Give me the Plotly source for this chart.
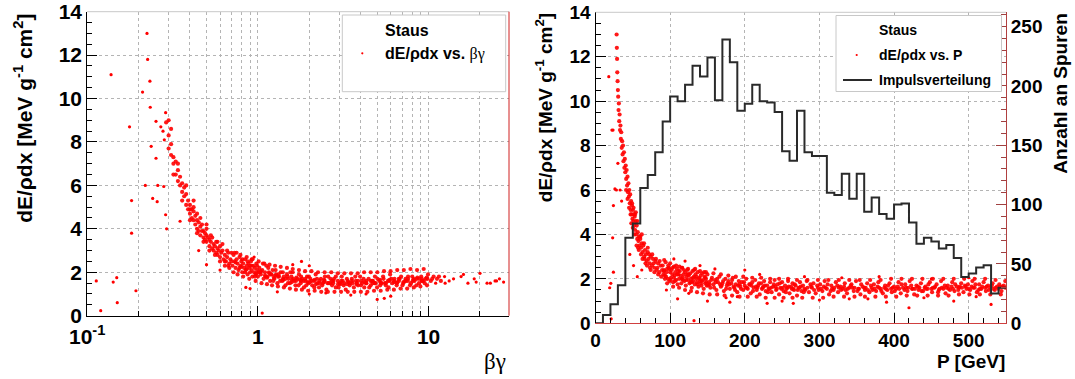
import plotly.graph_objects as go

# ---------------- data: left panel (beta*gamma, dE/rho dx) ----------------
left_curve = [
    (0.29, 8.9), (0.30, 7.7), (0.30, 8.3), (0.30, 9.0), (0.31, 8.6), (0.31, 7.4), (0.31, 7.9),
    (0.32, 7.0), (0.32, 7.3), (0.33, 6.5), (0.33, 7.1), (0.34, 6.7), (0.34, 6.2), (0.35, 6.0),
    (0.35, 6.4), (0.36, 5.7), (0.36, 6.1), (0.37, 5.5), (0.37, 5.9), (0.38, 5.1), (0.38, 5.6),
    (0.39, 4.9), (0.39, 5.3), (0.40, 4.7), (0.40, 5.1), (0.41, 4.9), (0.41, 4.5), (0.42, 4.8),
    (0.42, 4.4), (0.43, 4.6), (0.43, 4.2), (0.44, 4.4), (0.44, 4.0), (0.45, 4.3), (0.45, 3.9),
    (0.46, 4.1), (0.46, 3.7), (0.47, 3.9), (0.47, 4.2), (0.48, 3.6), (0.48, 3.9), (0.49, 3.5),
    (0.49, 3.8), (0.50, 3.4), (0.50, 3.7), (0.51, 3.6), (0.52, 3.2), (0.52, 3.5), (0.53, 3.4),
    (0.54, 3.1), (0.55, 3.3), (0.55, 3.0), (0.56, 3.2), (0.57, 2.9), (0.58, 3.1), (0.58, 2.8),
    (0.59, 3.0), (0.60, 2.7), (0.61, 2.9), (0.62, 3.0), (0.63, 2.6), (0.64, 2.8), (0.65, 2.5),
    (0.66, 2.7), (0.67, 2.9), (0.68, 2.4), (0.69, 2.6), (0.70, 2.5), (0.40, 4.9), (0.42, 5.0),
    (0.44, 4.7), (0.50, 4.0), (0.53, 3.7), (0.57, 3.4), (0.60, 3.2), (0.64, 2.5), (0.67, 2.3),
    (0.32, 6.5), (0.34, 7.0), (0.36, 5.3), (0.38, 6.0), (0.40, 4.4), (0.42, 5.3), (0.44, 3.8),
    (0.46, 4.5), (0.48, 3.4), (0.50, 4.2), (0.52, 3.0), (0.54, 3.6), (0.56, 2.8), (0.58, 3.4),
    (0.60, 2.5), (0.62, 3.3), (0.64, 2.3), (0.66, 3.0), (0.68, 2.2), (0.70, 2.9),
]

left_band = [
    (0.71, 2.3), (0.72, 2.8), (0.73, 2.5), (0.74, 2.2), (0.75, 2.6), (0.76, 2.4), (0.77, 2.1),
    (0.78, 2.7), (0.79, 2.3), (0.80, 2.5), (0.81, 2.0), (0.82, 2.4), (0.83, 2.2), (0.84, 2.6),
    (0.85, 2.1), (0.86, 2.3), (0.87, 1.9), (0.88, 2.4), (0.89, 2.2), (0.90, 2.0), (0.91, 2.5),
    (0.92, 2.1), (0.93, 1.8), (0.94, 2.3), (0.95, 2.0), (0.96, 2.2), (0.97, 1.9), (0.98, 2.4),
    (0.99, 2.1), (1.00, 1.8), (1.02, 2.2), (1.04, 1.9), (1.06, 2.1), (1.08, 1.7), (1.10, 2.0),
    (1.12, 2.3), (1.14, 1.8), (1.16, 2.0), (1.18, 1.6), (1.20, 1.9), (1.22, 2.1), (1.25, 1.7),
    (1.28, 1.9), (1.30, 1.5), (1.33, 1.8), (1.36, 2.0), (1.39, 1.6), (1.42, 1.8), (1.45, 1.4),
    (1.48, 1.9), (1.51, 1.7), (1.54, 1.5), (1.57, 1.8), (1.60, 2.0), (1.63, 1.6), (1.66, 1.4),
    (1.70, 1.7), (1.74, 1.9), (1.78, 1.5), (1.82, 1.7), (1.86, 1.3), (1.90, 1.6), (1.94, 1.8),
    (1.98, 1.5), (2.03, 1.7), (2.08, 1.4), (2.13, 1.6), (2.18, 1.9), (2.23, 1.5), (2.28, 1.3),
    (2.34, 1.7), (2.40, 1.5), (2.46, 1.6), (2.52, 1.2), (2.58, 1.8), (2.65, 1.5), (2.72, 1.4),
    (2.79, 1.7), (2.86, 1.3), (2.94, 1.6), (3.02, 1.5), (3.10, 1.8), (3.18, 1.4), (3.27, 1.2),
    (3.36, 1.6), (3.45, 1.5), (3.55, 1.7), (3.65, 1.3), (3.75, 1.6), (3.86, 1.4), (3.97, 1.8),
    (4.08, 1.5), (4.20, 1.3), (4.32, 1.6), (4.45, 1.7), (4.58, 1.4), (4.71, 1.5), (4.85, 1.8),
    (4.99, 1.3), (5.14, 1.6), (5.29, 1.5), (5.45, 1.7), (5.61, 1.4), (5.78, 1.6), (5.95, 1.9),
    (6.13, 1.5), (6.31, 1.7), (6.50, 1.4), (6.70, 1.6), (6.90, 1.8), (7.11, 1.5), (7.33, 1.7),
    (7.55, 1.6), (7.78, 1.4), (8.02, 1.8), (8.27, 1.6), (8.52, 1.7), (8.78, 1.5), (9.05, 1.8),
    (9.33, 1.6), (9.62, 1.7), (9.92, 1.9), (10.3, 1.6), (10.7, 1.8), (11.2, 1.7), (11.8, 1.6),
    (0.72, 2.0), (0.75, 2.9), (0.78, 2.2), (0.81, 2.6), (0.84, 2.0), (0.87, 2.5), (0.90, 2.3),
    (0.93, 2.6), (0.96, 1.8), (0.99, 2.3), (1.03, 2.0), (1.07, 2.4), (1.11, 1.8), (1.15, 2.2),
    (1.19, 1.9), (1.23, 1.6), (1.27, 2.1), (1.31, 1.8), (1.35, 1.6), (1.40, 2.0), (1.45, 1.7),
    (1.50, 1.5), (1.55, 2.0), (1.61, 1.7), (1.67, 1.6), (1.73, 1.4), (1.79, 1.8), (1.85, 1.6),
    (1.92, 1.4), (1.99, 1.8), (2.06, 1.6), (2.14, 1.3), (2.22, 1.7), (2.30, 1.6), (2.38, 1.4),
    (2.47, 1.8), (2.56, 1.5), (2.66, 1.7), (2.76, 1.5), (2.86, 1.8), (2.97, 1.3), (3.08, 1.6),
    (3.20, 1.5), (3.32, 1.7), (3.45, 1.4), (3.58, 1.5), (3.72, 1.8), (3.86, 1.6), (4.01, 1.4),
    (4.16, 1.7), (4.32, 1.5), (4.49, 1.3), (4.66, 1.6), (4.84, 1.5), (5.02, 1.7), (5.21, 1.4),
    (5.41, 1.8), (5.62, 1.5), (5.83, 1.3), (6.05, 1.7), (6.28, 1.6), (6.52, 1.5), (6.77, 1.7),
    (7.03, 1.4), (7.30, 1.6), (7.58, 1.8), (7.87, 1.5), (8.17, 1.7), (8.48, 1.4), (8.80, 1.7),
    (9.14, 1.6), (9.49, 1.5), (9.85, 1.7), (10.5, 1.7), (11.5, 1.8),
    (1.01, 2.0), (1.13, 1.75), (1.26, 1.85), (1.41, 1.65), (1.58, 1.55), (1.76, 1.65),
    (1.96, 1.55), (2.19, 1.45), (2.44, 1.55), (2.72, 1.6), (3.04, 1.45), (3.39, 1.55),
    (3.79, 1.5), (4.23, 1.55), (4.72, 1.6), (5.27, 1.5), (5.88, 1.6), (6.57, 1.55),
    (7.33, 1.6), (8.18, 1.65), (9.13, 1.7),
]

left_band_edges = [
    (0.73, 2.9), (0.76, 1.9), (0.79, 2.8), (0.82, 1.8), (0.86, 2.7), (0.89, 1.7), (0.92, 2.6),
    (0.97, 1.6), (1.01, 2.5), (1.05, 1.5), (1.09, 2.4), (1.13, 1.45), (1.17, 2.35), (1.21, 1.4),
    (1.26, 2.3), (1.31, 1.35), (1.36, 2.25), (1.42, 1.3), (1.48, 2.2), (1.54, 1.25), (1.60, 2.15),
    (1.67, 1.2), (1.74, 2.1), (1.81, 1.2), (1.89, 2.05), (1.97, 1.15), (2.06, 2.05), (2.15, 1.15),
    (2.25, 2.0), (2.35, 1.1), (2.46, 2.0), (2.57, 1.1), (2.69, 2.0), (2.81, 1.1), (2.94, 1.95),
    (3.07, 1.1), (3.21, 1.95), (3.36, 1.1), (3.51, 1.95), (3.67, 1.1), (3.84, 1.95), (4.01, 1.1),
    (4.19, 2.0), (4.38, 1.1), (4.58, 2.0), (4.79, 1.15), (5.01, 2.0), (5.24, 1.15), (5.48, 2.05),
    (5.73, 1.2), (5.99, 2.05), (6.26, 1.2), (6.55, 2.1), (6.85, 1.25), (7.16, 2.1), (7.49, 1.25),
    (7.83, 2.15), (8.19, 1.3), (8.56, 2.1), (8.95, 1.35), (9.36, 2.15), (9.79, 1.4),
    (0.74, 2.45), (0.80, 2.25), (0.86, 2.15), (0.92, 2.3), (0.98, 1.95), (1.04, 2.05),
    (1.10, 1.85), (1.17, 1.95), (1.24, 1.75), (1.32, 1.9), (1.40, 1.7), (1.49, 1.8), (1.58, 1.65),
    (1.68, 1.75), (1.79, 1.6), (1.90, 1.7), (2.02, 1.55), (2.15, 1.65), (2.29, 1.5), (2.44, 1.65),
    (2.60, 1.5), (2.77, 1.6), (2.95, 1.45), (3.14, 1.6), (3.34, 1.45), (3.56, 1.6), (3.79, 1.45),
    (4.04, 1.6), (4.30, 1.5), (4.58, 1.6), (4.88, 1.5), (5.20, 1.65), (5.54, 1.5), (5.90, 1.65),
    (6.28, 1.55), (6.69, 1.7), (7.12, 1.55), (7.58, 1.7), (8.07, 1.6), (8.59, 1.75), (9.15, 1.6),
    (9.74, 1.75),
]

left_outliers = [
    (0.113, 1.6), (0.12, 0.23), (0.138, 11.1), (0.142, 1.55), (0.149, 1.75), (0.15, 0.6),
    (0.177, 8.7), (0.182, 5.3), (0.182, 3.8), (0.193, 1.15), (0.211, 10.3), (0.219, 6.0),
    (0.224, 13.0), (0.226, 11.8), (0.233, 10.8), (0.234, 9.6), (0.237, 7.8), (0.242, 5.4),
    (0.253, 7.25), (0.257, 5.25), (0.253, 8.95), (0.259, 6.0), (0.281, 5.95), (0.288, 9.35),
    (0.292, 4.0), (0.288, 4.65), (0.27, 8.7), (0.278, 8.5), (0.283, 8.1), (0.35, 4.35),
    (0.45, 3.0), (0.50, 2.35), (0.60, 2.1), (1.06, 0.12), (0.85, 1.3), (0.90, 1.25), (1.30, 1.1),
    (2.0, 1.0), (2.5, 1.05), (3.5, 0.95), (4.3, 1.0), (5.0, 0.75), (5.5, 0.8), (6.0, 0.9),
    (1.6, 2.35), (2.0, 2.3), (1.8, 2.5), (0.95, 2.7), (12.5, 1.5), (16.0, 1.9), (19.0, 1.55),
    (11.0, 1.5), (20.0, 1.95), (23.0, 1.5), (25.0, 1.6), (12.4, 1.8), (13.2, 1.6),
    (14.0, 1.7), (15.5, 1.8), (17.0, 1.5), (18.5, 1.7), (22.0, 1.5), (24.5, 1.6),
    (26.0, 1.7), (27.5, 1.55),
]

# ---------------- data: right panel (P in GeV, dE/rho dx) ----------------
right_curve = [
    (28.3, 13.0), (28.6, 12.4), (28.9, 11.9), (29.2, 11.3), (29.6, 10.9), (30.0, 10.5),
    (30.4, 10.2), (30.9, 9.6), (31.3, 9.9), (31.8, 9.1), (32.3, 9.4), (32.8, 8.7), (33.4, 8.9),
    (34.0, 8.3), (34.5, 8.6), (35.1, 7.9), (35.7, 8.2), (36.3, 7.6), (36.9, 8.0), (37.5, 7.3),
    (38.1, 7.7), (38.7, 7.0), (39.3, 7.4), (39.9, 6.8), (40.5, 7.1), (41.1, 6.5), (41.7, 6.9),
    (42.3, 6.2), (42.9, 6.6), (43.5, 5.9), (44.1, 6.3), (44.7, 5.7), (45.3, 6.0), (45.9, 5.4),
    (46.5, 5.8), (47.1, 5.1), (47.7, 5.5), (48.3, 4.9), (48.9, 5.3), (49.5, 4.7), (50.1, 5.1),
    (50.7, 4.6), (51.3, 4.9), (51.9, 4.4), (52.5, 4.8), (53.1, 4.2), (53.8, 4.6), (54.5, 4.0),
    (55.2, 4.4), (55.9, 3.8), (56.7, 4.1), (57.5, 3.7), (58.3, 3.9), (59.1, 3.5), (60.0, 3.8),
    (61.0, 3.4), (62.0, 3.6), (63.0, 3.2), (64.1, 3.5), (65.2, 3.0), (66.3, 3.3), (67.5, 3.1),
    (68.7, 2.8), (70.0, 3.2), (71.3, 2.9), (72.7, 2.7), (74.1, 3.0), (75.6, 2.6), (77.1, 2.9),
    (78.7, 2.5), (80.3, 2.8), (82.0, 2.4), (83.7, 2.7), (85.5, 2.3), (87.3, 2.6), (89.2, 2.4),
    (41.0, 6.0), (43.0, 5.6), (45.0, 5.2), (48.0, 4.5), (52.0, 4.0), (55.0, 3.5), (58.0, 3.3),
    (60.0, 3.9), (63.0, 2.9), (65.0, 3.6), (67.0, 2.7), (70.0, 3.4), (73.0, 2.5), (76.0, 3.1),
    (79.0, 2.3), (81.0, 2.9), (84.0, 2.2), (86.0, 2.8), (88.0, 2.1), (49.0, 5.4), (54.0, 5.0),
    (47.0, 4.9), (50.0, 4.3), (53.0, 4.9), (51.0, 5.2), (56.0, 4.6), (61.0, 3.1), (69.0, 2.6),
    (74.0, 2.4), (78.0, 2.7), (83.0, 2.5), (72.0, 3.1), (66.0, 2.9), (62.0, 4.0), (57.0, 3.4),
]

right_band = [
    (90, 2.6), (91, 2.2), (92, 2.4), (93, 2.0), (94, 2.75), (95, 2.3), (96, 2.45), (97, 2.0),
    (98, 2.5), (99, 1.9), (100, 2.3), (101, 2.05), (102, 2.4), (103, 2.2), (104, 1.85),
    (105, 2.55), (106, 2.15), (107, 2.3), (108, 1.95), (109, 2.45), (110, 1.75), (111, 2.2),
    (112, 2.0), (113, 2.35), (114, 2.15), (115, 1.8), (116, 2.5), (117, 2.05), (118, 2.2),
    (119, 1.9), (120, 2.3), (121, 1.7), (122, 2.1), (123, 2.4), (124, 1.95), (125, 2.15),
    (126, 1.8), (127, 2.25), (128, 2.0), (129, 1.6), (130, 2.35), (131, 1.9), (132, 2.1),
    (133, 1.75), (134, 2.2), (135, 2.0), (136, 1.85), (137, 2.3), (138, 1.65), (139, 2.05),
    (140, 1.9), (141, 2.15), (142, 1.7), (143, 2.25), (144, 1.95), (145, 1.55), (146, 2.1),
    (147, 1.8), (148, 2.0), (149, 1.7), (150, 2.2), (152, 1.85), (154, 1.6), (156, 2.05),
    (158, 1.75), (160, 1.95), (162, 1.5), (164, 1.85), (166, 2.1), (168, 1.65), (170, 1.8),
    (172, 1.45), (174, 2.0), (176, 1.7), (178, 1.9), (180, 1.55), (182, 1.8), (184, 2.05),
    (186, 1.6), (188, 1.75), (190, 1.4), (192, 1.9), (194, 1.65), (196, 1.85), (198, 1.5),
    (200, 1.7), (202, 2.0), (204, 1.55), (206, 1.75), (208, 1.35), (210, 1.85), (212, 1.6),
    (214, 1.95), (216, 1.5), (218, 1.7), (220, 1.3), (222, 1.8), (224, 1.6), (226, 1.9),
    (228, 1.45), (230, 1.7), (232, 1.55), (234, 1.85), (236, 1.4), (238, 1.65), (240, 1.95),
    (242, 1.5), (244, 1.75), (246, 1.3), (248, 1.6), (250, 1.85), (252, 1.45), (254, 1.7),
    (256, 1.55), (258, 1.9), (260, 1.35), (262, 1.65), (264, 1.8), (266, 1.5), (268, 1.7),
    (270, 1.25), (272, 1.6), (274, 1.85), (276, 1.45), (278, 1.7), (280, 1.55), (283, 1.9),
    (286, 1.4), (289, 1.65), (292, 1.8), (295, 1.35), (298, 1.6), (301, 1.75), (304, 1.45),
    (307, 1.9), (310, 1.55), (313, 1.3), (316, 1.7), (319, 1.5), (322, 1.85), (325, 1.4),
    (328, 1.65), (331, 1.55), (334, 1.8), (337, 1.35), (340, 1.6), (343, 1.75), (346, 1.45),
    (349, 1.9), (352, 1.55), (355, 1.3), (358, 1.65), (361, 1.5), (364, 1.8), (367, 1.4),
    (370, 1.6), (373, 1.75), (376, 1.45), (379, 1.85), (382, 1.55), (385, 1.35), (388, 1.7),
    (391, 1.5), (394, 1.8), (397, 1.4), (400, 1.65), (403, 1.55), (406, 1.85), (409, 1.35),
    (412, 1.6), (415, 1.75), (418, 1.45), (421, 1.9), (424, 1.55), (427, 1.3), (430, 1.7),
    (433, 1.5), (436, 1.8), (439, 1.45), (442, 1.65), (445, 1.55), (448, 1.85), (451, 1.4),
    (454, 1.6), (457, 1.75), (460, 1.5), (463, 1.9), (466, 1.55), (469, 1.35), (472, 1.7),
    (475, 1.5), (478, 1.85), (481, 1.45), (484, 1.65), (487, 1.6), (490, 1.8), (493, 1.4),
    (496, 1.65), (499, 1.75), (502, 1.5), (505, 1.9), (508, 1.6), (511, 1.4), (514, 1.75),
    (517, 1.55), (520, 1.85), (523, 1.45), (526, 1.7), (529, 1.6), (532, 1.8), (535, 1.5),
    (538, 1.65), (541, 1.75), (544, 1.45), (547, 1.7),
    (91.5, 2.35), (94.5, 2.1), (97.5, 2.6), (100.5, 1.95), (103.5, 2.5), (106.5, 1.9),
    (109.5, 2.2), (112.5, 2.55), (115.5, 2.0), (118.5, 2.4), (121.5, 1.95), (124.5, 2.2),
    (127.5, 1.85), (130.5, 2.05), (133.5, 2.45), (136.5, 1.75), (139.5, 2.0), (142.5, 1.9),
    (145.5, 2.3), (148.5, 1.85), (151, 1.7), (155, 1.95), (159, 1.6), (163, 2.0), (167, 1.75),
    (171, 1.9), (175, 1.55), (179, 1.75), (183, 1.95), (187, 1.5), (191, 1.7), (195, 1.55),
    (199, 1.85), (203, 1.6), (207, 1.75), (211, 1.45), (215, 1.65), (219, 1.8), (223, 1.55),
    (227, 1.7), (231, 1.4), (235, 1.6), (239, 1.75), (243, 1.55), (247, 1.8), (251, 1.6),
    (255, 1.4), (259, 1.65), (263, 1.55), (267, 1.75), (271, 1.5), (275, 1.65), (279, 1.4),
    (284, 1.6), (288, 1.75), (293, 1.5), (297, 1.7), (302, 1.55), (306, 1.65), (311, 1.75),
    (315, 1.45), (320, 1.6), (324, 1.7), (329, 1.5), (333, 1.65), (338, 1.55), (342, 1.7),
    (347, 1.6), (351, 1.45), (356, 1.75), (360, 1.6), (365, 1.5), (369, 1.7), (374, 1.55),
    (378, 1.65), (383, 1.45), (387, 1.6), (392, 1.7), (396, 1.55), (401, 1.45), (405, 1.65),
    (410, 1.75), (414, 1.5), (419, 1.6), (423, 1.7), (428, 1.55), (432, 1.65), (437, 1.45),
    (441, 1.6), (446, 1.75), (450, 1.55), (455, 1.65), (459, 1.4), (464, 1.6), (468, 1.7),
    (473, 1.55), (477, 1.65), (482, 1.75), (486, 1.5), (491, 1.6), (495, 1.7), (500, 1.55),
    (504, 1.65), (509, 1.75), (513, 1.5), (518, 1.65), (522, 1.6), (527, 1.5), (531, 1.7),
    (536, 1.6), (540, 1.55), (545, 1.65), (549, 1.6),
]

right_band_edges = [
    (92, 2.85), (96, 1.8), (100, 2.7), (104, 1.65), (108, 2.6), (112, 1.6), (116, 2.5),
    (120, 1.5), (124, 2.45), (128, 1.45), (132, 2.4), (136, 1.4), (140, 2.35), (144, 1.35),
    (148, 2.3), (153, 1.3), (158, 2.25), (163, 1.3), (168, 2.2), (173, 1.25), (178, 2.15),
    (183, 1.25), (188, 2.1), (193, 1.2), (198, 2.1), (204, 1.2), (210, 2.05), (216, 1.2),
    (222, 2.05), (228, 1.15), (234, 2.0), (240, 1.15), (246, 2.0), (252, 1.15), (258, 2.0),
    (264, 1.15), (270, 1.95), (277, 1.15), (284, 1.95), (291, 1.15), (298, 1.95), (305, 1.15),
    (312, 1.95), (319, 1.2), (326, 1.95), (333, 1.2), (340, 1.95), (347, 1.2), (354, 1.95),
    (361, 1.2), (368, 1.95), (375, 1.2), (382, 1.95), (389, 1.2), (396, 2.0), (403, 1.2),
    (410, 2.0), (417, 1.25), (424, 2.0), (431, 1.25), (438, 2.0), (445, 1.25), (452, 2.0),
    (459, 1.25), (466, 2.0), (473, 1.25), (480, 2.0), (487, 1.3), (494, 2.0), (501, 1.3),
    (508, 2.0), (515, 1.3), (522, 2.0), (529, 1.3), (536, 1.95), (543, 1.3), (549, 1.9),
    (93, 2.15), (99, 2.45), (105, 2.05), (111, 2.35), (117, 1.95), (123, 2.2), (129, 1.85),
    (135, 2.1), (141, 1.8), (147, 2.05), (153, 1.75), (161, 1.85), (169, 1.7), (177, 1.8),
    (185, 1.65), (193, 1.75), (201, 1.6), (209, 1.7), (217, 1.6), (225, 1.65), (233, 1.55),
    (241, 1.65), (249, 1.55), (257, 1.6), (265, 1.55), (273, 1.6), (281, 1.5), (290, 1.6),
    (299, 1.5), (308, 1.6), (317, 1.55), (326, 1.6), (335, 1.5), (344, 1.6), (353, 1.55),
    (362, 1.6), (371, 1.5), (380, 1.6), (389, 1.55), (398, 1.6), (407, 1.55), (416, 1.6),
    (425, 1.55), (434, 1.6), (443, 1.55), (452, 1.6), (461, 1.55), (470, 1.6), (479, 1.55),
    (488, 1.65), (497, 1.55), (506, 1.6), (515, 1.55), (524, 1.65), (533, 1.55), (542, 1.65),
]

right_outliers = [
    (17.8, 11.1), (22.0, 8.7), (23.5, 8.7), (19.0, 1.6), (20.5, 1.8), (21.0, 0.2), (23.0, 3.85),
    (24.0, 2.3), (24.0, 5.3), (26.0, 6.05), (28.0, 6.0), (33.0, 6.0), (30.0, 7.2), (35.0, 5.5),
    (46.0, 3.1), (51.0, 2.6), (56.0, 2.1), (62.0, 2.4), (110, 1.1), (150, 1.0), (175, 1.15),
    (180, 0.95), (230, 0.9), (250, 1.0), (265, 0.9), (300, 1.05), (365, 1.1), (390, 0.95),
    (420, 0.7), (480, 1.0), (530, 0.85), (132, 0.12), (105, 2.9), (120, 2.8), (140, 2.6),
    (160, 2.45), (200, 2.4), (220, 2.2), (280, 2.1), (330, 2.05), (380, 2.1), (450, 2.0),
    (500, 2.05), (95, 1.5), (125, 1.35), (190, 1.2), (340, 1.1), (440, 1.15), (510, 1.2),
]

# momentum distribution histogram (10 GeV bins)
bin_low = [0, 10, 20, 30, 40, 50, 60, 70, 80, 90, 100, 110, 120, 130, 140, 150, 160, 170,
           180, 190, 200, 210, 220, 230, 240, 250, 260, 270, 280, 290, 300, 310, 320, 330,
           340, 350, 360, 370, 380, 390, 400, 410, 420, 430, 440, 450, 460, 470, 480, 490,
           500, 510, 520, 530, 540]
bin_high_edge = 550
counts = [0, 7, 16, 32, 72, 84, 114, 125, 144, 170, 191, 187, 201, 217, 208, 224, 188, 239,
          220, 179, 185, 201, 187, 186, 178, 145, 137, 179, 144, 141, 141, 110, 108, 126,
          105, 126, 94, 106, 92, 88, 100, 101, 85, 67, 72, 69, 63, 66, 55, 39, 42, 47, 49,
          25, 30]

y_ticks_left = [0, 2, 4, 6, 8, 10, 12, 14]
x_ticks_left = [0.1, 1, 10]
x_ticktext_left = ["10<sup>-1</sup>", "1", "10"]
x_grid_left = [0.2, 0.3, 0.4, 0.5, 0.6, 0.7, 0.8, 0.9, 2, 3, 4, 5, 6, 7, 8, 9, 20]
x_ticks_right = [0, 100, 200, 300, 400, 500]
y3_ticks = [0, 50, 100, 150, 200, 250]


def unzip(*groups):
    xs, ys = [], []
    for g in groups:
        for a, b in g:
            xs.append(a)
            ys.append(b)
    return xs, ys


W, H = 1075, 379
FONT = "Liberation Sans, Arial, Helvetica, sans-serif"
RED = "#ff0000"
GRID = "#b4b4b4"


def px(x):
    return x / W


def py(y):
    return 1 - y / H


lbx, lby = unzip(left_curve, left_band, left_band_edges)
lox, loy = unzip(left_outliers)
rbx, rby = unzip(right_curve, right_band, right_band_edges)
rox, roy = unzip(right_outliers)
hx = bin_low + [bin_high_edge]
hy = counts + [counts[-1]]

fig = go.Figure()
dense = dict(color=RED, size=4.2, opacity=0.9, line=dict(width=0))
sparse = dict(color=RED, size=3.2, line=dict(width=0))
fig.add_trace(go.Scatter(x=lbx, y=lby, mode="markers", xaxis="x", yaxis="y", marker=dense,
                         showlegend=False, hoverinfo="skip"))
fig.add_trace(go.Scatter(x=lox, y=loy, mode="markers", xaxis="x", yaxis="y", marker=sparse,
                         showlegend=False, hoverinfo="skip"))
fig.add_trace(go.Scatter(x=rbx, y=rby, mode="markers", xaxis="x2", yaxis="y2", marker=dense,
                         showlegend=False, hoverinfo="skip"))
fig.add_trace(go.Scatter(x=rox, y=roy, mode="markers", xaxis="x2", yaxis="y2", marker=sparse,
                         showlegend=False, hoverinfo="skip"))
fig.add_trace(go.Scatter(x=hx, y=hy, mode="lines", xaxis="x2", yaxis="y3",
                         line=dict(color="#2a2a2a", width=2, shape="hv"),
                         showlegend=False, hoverinfo="skip"))

tick_l = dict(family=FONT, size=21, color="black", weight="bold")
tick_r = dict(family=FONT, size=19, color="black", weight="bold")

fig.update_layout(
    width=W, height=H,
    margin=dict(l=0, r=0, t=0, b=0, autoexpand=False),
    paper_bgcolor="white", plot_bgcolor="white",
    showlegend=False,
    xaxis=dict(
        domain=[px(87.2), px(509)], type="log", range=[-1, 1.471], anchor="y",
        automargin=False, ticklabelstandoff=2,
        tickmode="array", tickvals=x_ticks_left, ticktext=x_ticktext_left,
        ticks="inside", ticklen=10, tickcolor="black", tickfont=tick_l,
        showgrid=True, gridcolor=GRID, griddash="dot", gridwidth=1,
        minor=dict(tickmode="array", tickvals=x_grid_left, ticks="inside", ticklen=5,
                   tickcolor="black", showgrid=True, gridcolor=GRID, griddash="dot"),
        showline=True, linecolor="black", linewidth=1, zeroline=False,
    ),
    yaxis=dict(
        domain=[py(315.7), py(11.7)], range=[0, 14], anchor="x", automargin=False,
        tickmode="array", tickvals=y_ticks_left,
        ticks="inside", ticklen=10, tickcolor="black", tickfont=tick_l,
        showgrid=True, gridcolor=GRID, griddash="dot", gridwidth=1,
        minor=dict(dtick=0.5, ticks="inside", ticklen=5, tickcolor="black", showgrid=False),
        showline=True, linecolor="black", linewidth=1, zeroline=False,
    ),
    xaxis2=dict(
        domain=[px(595.5), px(1006)], range=[0, 550], anchor="y2", automargin=False,
        tickmode="array", tickvals=x_ticks_right,
        ticks="inside", ticklen=10, tickcolor="black", tickfont=tick_r,
        showgrid=True, gridcolor=GRID, griddash="dot", gridwidth=1,
        minor=dict(dtick=20, ticks="inside", ticklen=5, tickcolor="black", showgrid=False),
        showline=True, linecolor="#d04040", linewidth=1, zeroline=False,
    ),
    yaxis2=dict(
        domain=[py(323.3), py(12.3)], range=[0, 14], anchor="x2", automargin=False,
        tickmode="array", tickvals=y_ticks_left,
        ticks="inside", ticklen=10, tickcolor="black", tickfont=tick_r,
        showgrid=True, gridcolor=GRID, griddash="dot", gridwidth=1,
        minor=dict(dtick=0.5, ticks="inside", ticklen=5, tickcolor="black", showgrid=False),
        showline=True, linecolor="black", linewidth=1, zeroline=False,
    ),
    yaxis3=dict(
        domain=[py(323.3), py(12.3)], range=[0, 262], anchor="x2", overlaying="y2",
        side="right", automargin=False, tickmode="array", tickvals=y3_ticks,
        ticks="inside", ticklen=10, tickcolor="#a04040", tickfont=tick_r,
        minor=dict(dtick=10, ticks="inside", ticklen=5, tickcolor="#a04040", showgrid=False),
        showgrid=False, showline=True, linecolor="#b04040", linewidth=1, zeroline=False,
    ),
)

shapes = [
    dict(type="line", xref="x domain", yref="y domain", x0=0, x1=1, y0=1, y1=1,
         line=dict(color="#c8c8c8", width=1)),
    dict(type="line", xref="x2 domain", yref="y2 domain", x0=0, x1=1, y0=1, y1=1,
         line=dict(color="#c8c8c8", width=1)),
    dict(type="line", xref="x domain", yref="y domain", x0=1, x1=1, y0=0, y1=1,
         line=dict(color="#d02020", width=1)),
    dict(type="rect", xref="paper", yref="paper", x0=px(342.3), x1=px(505.7),
         y0=py(91.7), y1=py(15), fillcolor="white", line=dict(color="#c8c8c8", width=1),
         layer="above"),
    dict(type="rect", xref="paper", yref="paper", x0=px(836), x1=px(1001.5),
         y0=py(91.5), y1=py(15.5), fillcolor="white", line=dict(color="#c8c8c8", width=1),
         layer="above"),
    dict(type="circle", xref="paper", yref="paper", x0=px(361.2), x1=px(363.4),
         y0=py(54.4), y1=py(52.2), fillcolor=RED, line=dict(width=0), layer="above"),
    dict(type="circle", xref="paper", yref="paper", x0=px(855.6), x1=px(857.8),
         y0=py(56.1), y1=py(53.9), fillcolor=RED, line=dict(width=0), layer="above"),
    dict(type="line", xref="paper", yref="paper", x0=px(843), x1=px(872),
         y0=py(80), y1=py(80), line=dict(color="#2a2a2a", width=2), layer="above"),
]
fig.update_layout(shapes=shapes)

SERIF = "Liberation Serif, Times New Roman, serif"
ann = []


def add_text(text, x, y, size, xanchor="left", yanchor="middle", angle=0, bold=True,
             family=FONT):
    ann.append(dict(text=text, x=px(x), y=py(y), xref="paper", yref="paper",
                    xanchor=xanchor, yanchor=yanchor, textangle=angle, showarrow=False,
                    font=dict(family=family, size=size, color="black",
                              weight="bold" if bold else "normal")))


add_text("dE/ρdx [MeV g<sup>-1</sup> cm<sup>2</sup>]", 23.6, 11.7, 21,
         xanchor="center", yanchor="top", angle=-90)
add_text("dE/ρdx [MeV g<sup>-1</sup> cm<sup>2</sup>]", 544, 11.7, 19,
         xanchor="center", yanchor="top", angle=-90)
add_text("Anzahl an Spuren", 1061, 11.7, 19, xanchor="center", yanchor="top", angle=-90)
add_text("βγ", 508, 361.5, 23, xanchor="right", bold=False, family=SERIF)
add_text("P [GeV]", 1007, 361.5, 19, xanchor="right")

add_text("Staus", 383.3, 30, 16)
add_text("dE/ρdx vs. <span style='font-family:Liberation Serif;font-weight:normal'>βγ</span>",
         383.3, 54.5, 16)
add_text("Staus", 876.7, 30, 14)
add_text("dE/ρdx vs. P", 876.7, 55, 14)
add_text("Impulsverteilung", 876.7, 80, 14)

fig.update_layout(annotations=ann)

fig.write_html("out.html")
